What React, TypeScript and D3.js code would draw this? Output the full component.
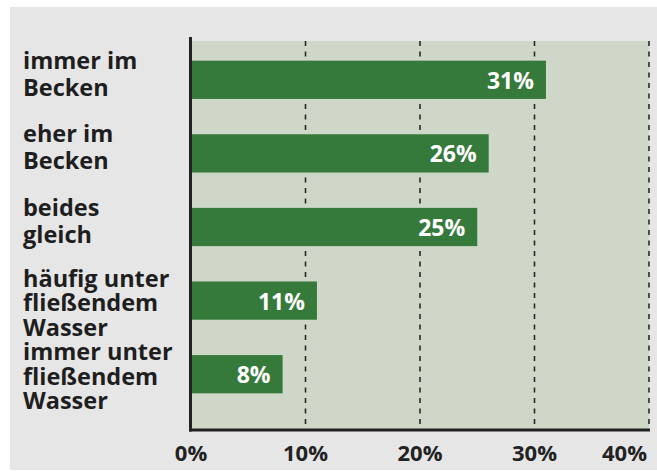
import React from "react";
import * as d3 from "d3";

const categories = [
  "immer im Becken",
  "eher im Becken",
  "beides gleich",
  "häufig unter fließendem Wasser",
  "immer unter fließendem Wasser",
];
const categoryLines = [
  ["immer im", "Becken"],
  ["eher im", "Becken"],
  ["beides", "gleich"],
  ["häufig unter", "fließendem", "Wasser"],
  ["immer unter", "fließendem", "Wasser"],
];
const values = [31, 26, 25, 11, 8];
const ticks = [0, 10, 20, 30, 40];

const W = 657;
const H = 473;
const FONT = "'Open Sans', 'Noto Sans', sans-serif";

export default function App() {
  const plotLeft = 191;
  const plotRight = 649;
  const plotTop = 41;
  const plotBottom = 429;

  const x = d3.scaleLinear().domain([0, 40]).range([plotLeft, plotRight]);
  const y = d3
    .scaleBand<string>()
    .domain(categories)
    .range([43, 411])
    .paddingInner(0.48)
    .paddingOuter(0.24);

  const bw = y.bandwidth();
  const lh = 24.5;

  return (
    <svg
      width={W}
      height={H}
      style={{ position: "absolute", left: 0, top: 0, display: "block" }}
    >
      <rect x={0} y={0} width={W} height={H} fill="#ffffff" />
      <rect x={10} y={7} width={647} height={463} fill="#e6e6e6" />
      <rect
        x={plotLeft}
        y={plotTop}
        width={plotRight - plotLeft}
        height={plotBottom - plotTop}
        fill="#cfd7c9"
      />
      {ticks.slice(1).map((t) => (
        <line
          key={"g" + t}
          x1={x(t)}
          x2={x(t)}
          y1={plotTop}
          y2={plotBottom}
          stroke="#2a2a2a"
          strokeWidth={1.6}
          strokeDasharray="5,5.5"
        />
      ))}
      {categories.map((c, i) => {
        const y0 = y(c) as number;
        const cy = y0 + bw / 2;
        const n = categoryLines[i].length;
        const first = n > 2 ? cy - 14 : cy - 11;
        return (
          <g key={c}>
            <rect
              x={x(0)}
              y={y0}
              width={x(values[i]) - x(0)}
              height={bw}
              fill="#367a3b"
            />
            <text
              x={x(values[i]) - 12}
              y={cy + 9}
              textAnchor="end"
              fill="#ffffff"
              fontFamily={FONT}
              fontWeight={700}
              fontSize={23}
            >
              {values[i]}%
            </text>
            <text
              fill="#1e1e1e"
              fontFamily={FONT}
              fontWeight={700}
              fontSize={23.5}
            >
              {categoryLines[i].map((ln, j) => (
                <tspan key={j} x={23} y={first + j * (n > 2 ? lh : 27)}>
                  {ln}
                </tspan>
              ))}
            </text>
          </g>
        );
      })}
      <line
        x1={190.5}
        x2={190.5}
        y1={37}
        y2={431.5}
        stroke="#222"
        strokeWidth={3}
      />
      <line
        x1={189}
        x2={plotRight + 1}
        y1={430}
        y2={430}
        stroke="#222"
        strokeWidth={3}
      />
      {ticks.map((t, i) => {
        const last = i === ticks.length - 1;
        return (
          <text
            key={"t" + t}
            x={last ? x(t) - 2 : x(t)}
            y={461}
            textAnchor={last ? "end" : "middle"}
            fill="#222"
            fontFamily={FONT}
            fontWeight={700}
            fontSize={22}
          >
            {t}%
          </text>
        );
      })}
    </svg>
  );
}
